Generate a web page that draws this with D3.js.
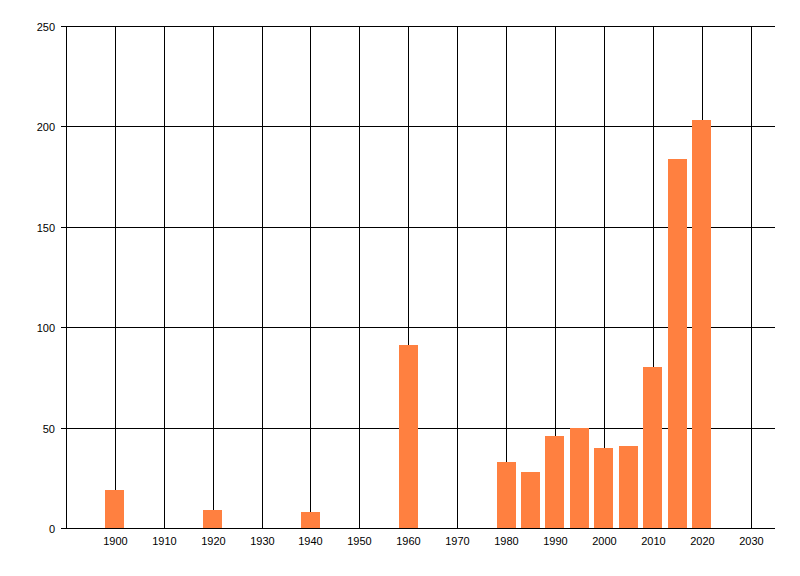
<!DOCTYPE html>
<html>
<head>
<meta charset="utf-8">
<script src="https://cdn.jsdelivr.net/npm/d3@7"></script>
<style>
  body { margin: 0; background: #fff; }
  text { font-family: "Liberation Sans", Arial, sans-serif; font-size: 11px; fill: #000; }
</style>
</head>
<body>
<svg id="chart" width="800" height="576"></svg>
<script>
// values
var years = [1900, 1920, 1940, 1960, 1980, 1985, 1990, 1995, 2000, 2005, 2010, 2015, 2020];
var counts = [19, 9, 8, 91, 33, 28, 46, 50, 40, 41, 80, 184, 203];
var xTicks = [1900, 1910, 1920, 1930, 1940, 1950, 1960, 1970, 1980, 1990, 2000, 2010, 2020, 2030];
var yTicks = [0, 50, 100, 150, 200, 250];

(function () {
  "use strict";
  var svg = d3.select('#chart');
  var margin = {left: 66, right: 775, top: 26, bottom: 528};

  var x = d3.scaleLinear().domain([1890, 2035]).range([margin.left, margin.right]);
  var y = d3.scaleLinear().domain([0, 250]).range([margin.bottom, margin.top]);
  function px(v) { return Math.round(v) + 0.5; }

  // grid
  svg.append('g').selectAll('line').data(xTicks).enter().append('line')
      .attr('x1', function (d) { return px(x(d)); })
      .attr('x2', function (d) { return px(x(d)); })
      .attr('y1', margin.top).attr('y2', margin.bottom)
      .attr('stroke', '#000');
  svg.append('g').selectAll('line').data(yTicks).enter().append('line')
      .attr('x1', margin.left - 5).attr('x2', margin.right)
      .attr('y1', function (d) { return px(y(d)); })
      .attr('y2', function (d) { return px(y(d)); })
      .attr('stroke', '#000');

  // bars
  svg.append('g').selectAll('rect').data(years).enter().append('rect')
      .attr('x', function (d) { return Math.round(x(d) - 9.5); })
      .attr('width', 19)
      .attr('y', function (d, i) { return Math.round(y(counts[i])); })
      .attr('height', function (d, i) { return margin.bottom - Math.round(y(counts[i])); })
      .attr('fill', '#ff8040');

  // axis lines
  svg.append('line').attr('x1', px(margin.left)).attr('x2', px(margin.left))
      .attr('y1', margin.top).attr('y2', margin.bottom + 1).attr('stroke', '#000');
  svg.append('line').attr('x1', margin.left).attr('x2', margin.right)
      .attr('y1', px(margin.bottom)).attr('y2', px(margin.bottom)).attr('stroke', '#000');

  // tick labels
  svg.append('g').selectAll('text').data(yTicks).enter().append('text')
      .attr('x', 55)
      .attr('y', function (d) { return px(y(d)) + 4; })
      .attr('text-anchor', 'end')
      .text(function (d) { return d; });
  svg.append('g').selectAll('text').data(xTicks).enter().append('text')
      .attr('x', function (d) { return px(x(d)); })
      .attr('y', 545)
      .attr('text-anchor', 'middle')
      .text(function (d) { return d; });
}());
</script>
</body>
</html>
